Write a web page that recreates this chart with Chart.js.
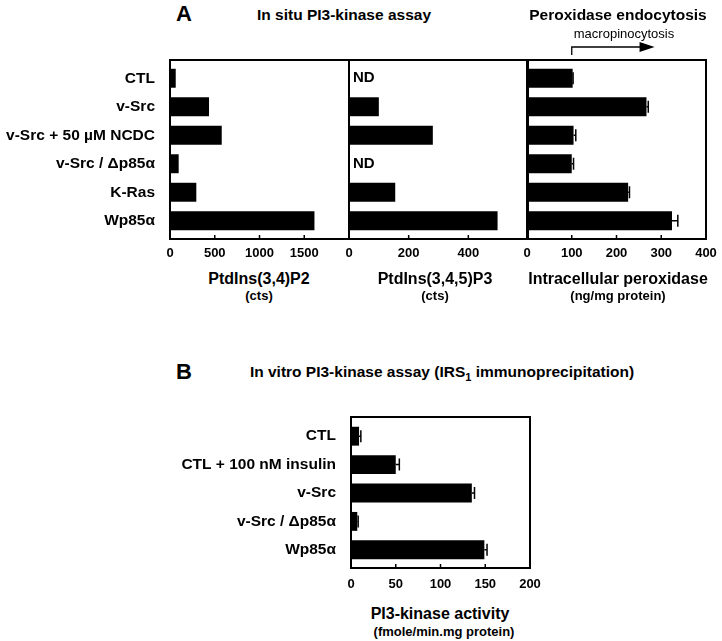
<!DOCTYPE html>
<html>
<head>
<meta charset="utf-8">
<script src="https://cdn.jsdelivr.net/npm/chart.js@4"></script>
<style>
  body { margin: 0; background: #fff; }
  #wrap { position: relative; width: 722px; height: 641px; overflow: hidden; font-family: "Liberation Sans", Arial, sans-serif; color: #000; }
  #wrap canvas { position: absolute; }
  .t { position: absolute; transform: translate(-50%, -50%); white-space: nowrap; line-height: 1; font-weight: bold; }
</style>
</head>
<body>
<div id="wrap">
  <canvas id="p1" width="360" height="215" style="left:0;top:50px"></canvas>
  <canvas id="p2" width="200" height="215" style="left:339px;top:50px"></canvas>
  <canvas id="p3" width="205" height="235" style="left:517px;top:30px"></canvas>
  <canvas id="pb" width="545" height="194" style="left:0;top:400px"></canvas>

  <div class="t" style="left:184px;top:14px;font-size:22px">A</div>
  <div class="t" style="left:344px;top:15px;font-size:15.5px">In situ PI3-kinase assay</div>
  <div class="t" style="left:618px;top:15px;font-size:15.5px">Peroxidase endocytosis</div>
  <div class="t" style="left:624px;top:33px;font-size:13px;font-weight:normal">macropinocytosis</div>

  <div class="t" style="left:259px;top:279px;font-size:16px">PtdIns(3,4)P2</div>
  <div class="t" style="left:259px;top:295px;font-size:13px">(cts)</div>
  <div class="t" style="left:435px;top:279px;font-size:16px">PtdIns(3,4,5)P3</div>
  <div class="t" style="left:435px;top:295px;font-size:13px">(cts)</div>
  <div class="t" style="left:618px;top:279px;font-size:16px">Intracellular peroxidase</div>
  <div class="t" style="left:618px;top:295px;font-size:13px">(ng/mg protein)</div>

  <div class="t" style="left:184px;top:372px;font-size:22px">B</div>
  <div class="t" style="left:442px;top:373px;font-size:15.5px">In vitro PI3-kinase assay (IRS<sub style="font-size:11px;vertical-align:-4px">1</sub> immunoprecipitation)</div>
  <div class="t" style="left:440px;top:614px;font-size:16px">PI3-kinase activity</div>
  <div class="t" style="left:444px;top:631px;font-size:13px">(fmole/min.mg protein)</div>
</div>

<script>
// panel A categories and values
const categoriesA = ["CTL", "v-Src", "v-Src + 50 µM NCDC", "v-Src / Δp85α", "K-Ras", "Wp85α"];
const p2Values = [64, 436, 578, 97, 294, 1614];          // PtdIns(3,4)P2 cts
const p3Values = [null, 100, 281, null, 155, 498];        // PtdIns(3,4,5)P3 cts (null = ND)
const peroxValues = [102, 267, 104, 100, 226, 324];       // ng/mg protein
const peroxErrors = [1, 4, 5, 4, 3, 13];

// panel B
const categoriesB = ["CTL", "CTL + 100 nM insulin", "v-Src", "v-Src / Δp85α", "Wp85α"];
const pi3kValues = [9, 50, 135, 7, 149];                  // fmole/min.mg protein
const pi3kErrors = [2, 4, 3, 1, 3];

// tick labels
const p2Ticks = [0, 500, 1000, 1500];
const p3Ticks = [0, 200, 400];
const peroxTicks = [0, 100, 200, 300, 400];
const pi3kTicks = [0, 50, 100, 150, 200];

const macroArrow = [100, 285];

const FONT = "'Liberation Sans', Arial, sans-serif";

// box around plot, with small inward ticks on bottom edge
const framePlugin = {
  id: 'frame',
  afterDraw(chart, args, opts) {
    const { ctx, chartArea: a } = chart;
    const top = a.top - (opts.extraTop || 0);
    const bottom = a.bottom + (opts.extraBottom || 0);
    ctx.save();
    ctx.strokeStyle = '#000';
    ctx.lineWidth = 2;
    ctx.strokeRect(a.left, top, a.right - a.left, bottom - top);
    ctx.lineWidth = 1.5;
    chart.scales.x.ticks.forEach(t => {
      const px = chart.scales.x.getPixelForValue(t.value);
      ctx.beginPath();
      ctx.moveTo(px, bottom);
      ctx.lineTo(px, bottom - 4);
      ctx.stroke();
    });
    ctx.restore();
  }
};

const errorBarPlugin = {
  id: 'errorBars',
  afterDatasetsDraw(chart, args, opts) {
    if (!opts.errors) return;
    const ctx = chart.ctx;
    const xs = chart.scales.x, ys = chart.scales.y;
    const vals = chart.data.datasets[0].data;
    ctx.save();
    ctx.strokeStyle = '#000';
    ctx.lineWidth = 1.5;
    opts.errors.forEach((e, i) => {
      if (vals[i] == null || !e) return;
      const x0 = xs.getPixelForValue(vals[i]);
      const x1 = xs.getPixelForValue(vals[i] + e);
      const py = ys.getPixelForValue(i);
      ctx.beginPath();
      ctx.moveTo(x0, py);
      ctx.lineTo(x1, py);
      ctx.moveTo(x1, py - 6);
      ctx.lineTo(x1, py + 6);
      ctx.stroke();
    });
    ctx.restore();
  }
};

// "ND" where no value was detected
const ndPlugin = {
  id: 'ndLabels',
  afterDatasetsDraw(chart, args, opts) {
    if (!opts.text) return;
    const ctx = chart.ctx;
    const vals = chart.data.datasets[0].data;
    ctx.save();
    ctx.font = 'bold 15px ' + FONT;
    ctx.fillStyle = '#000';
    ctx.textBaseline = 'middle';
    vals.forEach((v, i) => {
      if (v == null) ctx.fillText(opts.text, chart.chartArea.left + 4, chart.scales.y.getPixelForValue(i));
    });
    ctx.restore();
  }
};

const arrowPlugin = {
  id: 'arrow',
  afterDraw(chart, args, opts) {
    if (!opts.range) return;
    const ctx = chart.ctx;
    const xs = chart.scales.x;
    const x0 = xs.getPixelForValue(opts.range[0]);
    const x1 = xs.getPixelForValue(opts.range[1]);
    const y = chart.chartArea.top - 17;
    ctx.save();
    ctx.strokeStyle = '#000';
    ctx.fillStyle = '#000';
    ctx.lineWidth = 1.3;
    ctx.beginPath();
    ctx.moveTo(x0, y + 8);
    ctx.lineTo(x0, y);
    ctx.lineTo(x1 - 14, y);
    ctx.stroke();
    ctx.beginPath();
    ctx.moveTo(x1 - 15, y - 5);
    ctx.lineTo(x1, y);
    ctx.lineTo(x1 - 15, y + 5);
    ctx.closePath();
    ctx.fill();
    ctx.restore();
  }
};

function makeChart(id, cfg) {
  return new Chart(document.getElementById(id), {
    type: 'bar',
    data: {
      labels: cfg.labels,
      datasets: [{
        data: cfg.values,
        backgroundColor: '#000',
        borderWidth: 0,
        barPercentage: 0.95,
        categoryPercentage: 0.7
      }]
    },
    options: {
      indexAxis: 'y',
      responsive: false,
      animation: false,
      devicePixelRatio: 1,
      layout: { padding: cfg.padding },
      plugins: {
        legend: { display: false },
        tooltip: { enabled: false },
        frame: cfg.frame,
        errorBars: { errors: cfg.errors },
        ndLabels: { text: cfg.nd },
        arrow: { range: cfg.arrow }
      },
      scales: {
        x: {
          min: 0,
          max: cfg.max,
          grid: { display: false, drawTicks: false },
          border: { display: false },
          afterBuildTicks: s => { s.ticks = cfg.ticks.map(v => ({ value: v })); },
          afterFit: s => { s.height = 30; s.paddingLeft = 0; s.paddingRight = 0; },
          ticks: {
            padding: cfg.tickPad,
            maxRotation: 0,
            color: '#000',
            callback: v => String(v),
            font: { family: FONT, size: 13, weight: 'bold' }
          }
        },
        y: {
          display: cfg.showLabels,
          grid: { display: false, drawTicks: false },
          border: { display: false },
          afterFit: s => {
            if (cfg.showLabels) s.width = cfg.labelWidth;
            s.paddingTop = 0;
            s.paddingBottom = 0;
          },
          ticks: {
            padding: 15,
            color: '#000',
            font: { family: FONT, size: 15.5, weight: 'bold' }
          }
        }
      }
    },
    plugins: [framePlugin, errorBarPlugin, ndPlugin, arrowPlugin]
  });
}

makeChart('p1', {
  labels: categoriesA, values: p2Values, max: 2000, ticks: p2Ticks,
  padding: { top: 14, right: 11, left: 0, bottom: 0 },
  showLabels: true, labelWidth: 170, tickPad: 11,
  frame: { extraTop: 4, extraBottom: 4 }
});

makeChart('p2', {
  labels: categoriesA, values: p3Values, max: 600, ticks: p3Ticks,
  padding: { top: 14, right: 11, left: 10, bottom: 0 },
  showLabels: false, tickPad: 11, nd: 'ND',
  frame: { extraTop: 4, extraBottom: 4 }
});

makeChart('p3', {
  labels: categoriesA, values: peroxValues, errors: peroxErrors, max: 400, ticks: peroxTicks,
  padding: { top: 34, right: 16, left: 10, bottom: 0 },
  showLabels: false, tickPad: 11, arrow: macroArrow,
  frame: { extraTop: 4, extraBottom: 4 }
});

makeChart('pb', {
  labels: categoriesB, values: pi3kValues, errors: pi3kErrors, max: 200, ticks: pi3kTicks,
  padding: { top: 22, right: 15, left: 0, bottom: 0 },
  showLabels: true, labelWidth: 351, tickPad: 13,
  frame: { extraTop: 5, extraBottom: 4 }
});
</script>
</body>
</html>
